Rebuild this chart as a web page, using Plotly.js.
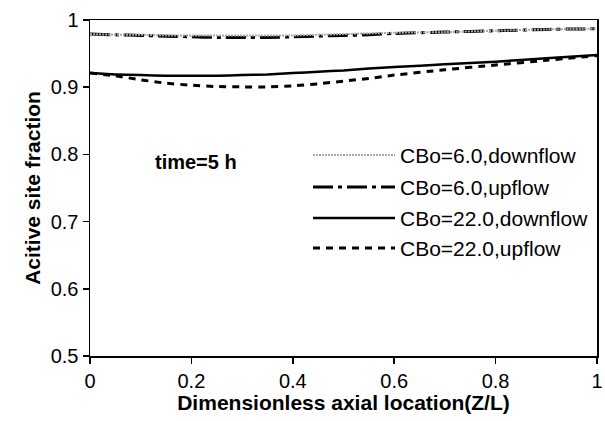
<!DOCTYPE html>
<html>
<head>
<meta charset="utf-8">
<script src="https://cdn.plot.ly/plotly-3.0.1.min.js"></script>
<style>
  html, body { margin: 0; padding: 0; background: #fff; }
  #chart { width: 605px; height: 421px; }
</style>
</head>
<body>
<div id="chart"></div>
<script>
// Dimensionless axial location Z/L
const zPos = [0, 0.05, 0.1, 0.15, 0.2, 0.25, 0.3, 0.35, 0.4, 0.45, 0.5, 0.55, 0.6, 0.7, 0.8, 0.9, 1.0];

// Active site fraction at time = 5 h
const cbo6Down  = [0.979, 0.978, 0.978, 0.977, 0.977, 0.977, 0.977, 0.977, 0.977, 0.978, 0.979, 0.980, 0.981, 0.982, 0.984, 0.986, 0.987];
const cbo6Up    = [0.979, 0.978, 0.977, 0.976, 0.975, 0.974, 0.974, 0.974, 0.975, 0.976, 0.977, 0.978, 0.980, 0.982, 0.984, 0.986, 0.987];
const cbo22Down = [0.921, 0.919, 0.918, 0.917, 0.917, 0.917, 0.918, 0.919, 0.921, 0.923, 0.925, 0.928, 0.930, 0.934, 0.938, 0.943, 0.948];
const cbo22Up   = [0.921, 0.917, 0.911, 0.906, 0.903, 0.901, 0.9005, 0.9005, 0.902, 0.905, 0.909, 0.913, 0.918, 0.926, 0.933, 0.940, 0.947];

const seriesNames = ['CBo=6.0,downflow', 'CBo=6.0,upflow', 'CBo=22.0,downflow', 'CBo=22.0,upflow'];
const seriesData = [cbo6Down, cbo6Up, cbo22Down, cbo22Up];

const xTicks = [0, 0.2, 0.4, 0.6, 0.8, 1];
const xTickText = ['0', '0.2', '0.4', '0.6', '0.8', '1'];
const yTicks = [0.5, 0.6, 0.7, 0.8, 0.9, 1];
const yTickText = ['0.5', '0.6', '0.7', '0.8', '0.9', '1'];

const lineStyles = [
  { color: '#a8a8a8', width: 2, dash: '2px,1px' },
  { color: '#000000', width: 3, dash: '20px,5px,4px,5px' },
  { color: '#000000', width: 2.5, dash: 'solid' },
  { color: '#000000', width: 3, dash: '7px,6px' }
];

const traces = seriesData.map((ys, i) => ({
  x: zPos,
  y: ys,
  type: 'scatter',
  mode: 'lines',
  name: seriesNames[i],
  line: Object.assign({ shape: 'spline', smoothing: 0.6 }, lineStyles[i]),
  showlegend: false
}));
// draw the thin grey line above the thicker dashed one
const ordered = [traces[1], traces[3], traces[2], traces[0]];

const FONT = 'Liberation Sans, Arial, sans-serif';

// hand-drawn key: long line samples to the left of each label
const keyRows = [155, 187, 218, 248];
const plotLeft = 90, plotWidth = 507, plotBottom = 356, plotHeight = 336;
const px2x = p => (p - plotLeft) / plotWidth;
const px2y = p => (plotBottom - p) / plotHeight;

const shapes = [];
const annotations = [];
keyRows.forEach((row, i) => {
  shapes.push({
    type: 'line', xref: 'paper', yref: 'paper',
    x0: px2x(313), x1: px2x(395), y0: px2y(row), y1: px2y(row),
    line: { color: lineStyles[i].color, width: lineStyles[i].width, dash: lineStyles[i].dash }
  });
  annotations.push({
    xref: 'paper', yref: 'paper', x: px2x(398), y: px2y(row),
    xanchor: 'left', yanchor: 'middle', showarrow: false,
    text: seriesNames[i], font: { family: FONT, size: 21, color: '#000' }
  });
});
annotations.push({
  xref: 'paper', yref: 'paper', x: px2x(196), y: px2y(162),
  xanchor: 'center', yanchor: 'middle', showarrow: false,
  text: '<b>time=5 h</b>', font: { family: FONT, size: 20, color: '#000' }
});

const layout = {
  width: 605, height: 421,
  margin: { l: 90, r: 8, t: 20, b: 65 },
  paper_bgcolor: '#fff', plot_bgcolor: '#fff',
  font: { family: FONT, size: 20, color: '#000' },
  xaxis: {
    range: [0, 1], tickvals: xTicks, ticktext: xTickText,
    ticks: 'outside', ticklen: 6, tickwidth: 1.5, tickcolor: '#000',
    showline: true, linecolor: '#000', linewidth: 1.5, mirror: true,
    showgrid: false, zeroline: false, ticklabeloverflow: 'allow',
    tickfont: { family: FONT, size: 20 },
    title: { text: '<b>Dimensionless axial location(Z/L)</b>', font: { family: FONT, size: 21 }, standoff: 2 }
  },
  yaxis: {
    range: [0.5, 1], tickvals: yTicks, ticktext: yTickText,
    ticks: 'outside', ticklen: 6, tickwidth: 1.5, tickcolor: '#000',
    showline: true, linecolor: '#000', linewidth: 1.5, mirror: true,
    showgrid: false, zeroline: false,
    tickfont: { family: FONT, size: 20 },
    title: { text: '<b>Acitive site fraction</b>', font: { family: FONT, size: 21 }, standoff: 4 }
  },
  shapes: shapes,
  annotations: annotations,
  showlegend: false
};

Plotly.newPlot('chart', ordered, layout, { displayModeBar: false, staticPlot: true });
</script>
</body>
</html>
